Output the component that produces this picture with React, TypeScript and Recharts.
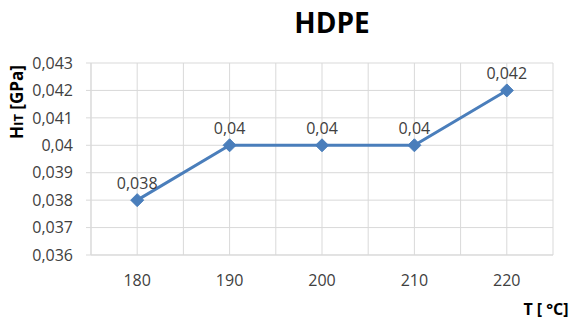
import { LineChart, Line, XAxis, YAxis, CartesianGrid, LabelList } from "recharts";

const temperatures = [180, 190, 200, 210, 220];
const hardness = [0.038, 0.04, 0.04, 0.04, 0.042];
const xTicks = [175, 180, 185, 190, 195, 200, 205, 210, 215, 220, 225];
const yTicks = [0.036, 0.037, 0.038, 0.039, 0.04, 0.041, 0.042, 0.043];

const data = temperatures.map((t, i) => ({ t, h: hardness[i] }));

const FONT = "'Open Sans', 'Noto Sans', sans-serif";
const BLUE = "#4A7EBB";

const fmt = (v: number) => String(Number(v.toFixed(3))).replace(".", ",");

const Diamond = (props: any) => {
  const { cx, cy } = props;
  if (cx == null || cy == null) return null;
  const r = 6.5;
  return (
    <path
      d={`M${cx},${cy - r} L${cx + r},${cy} L${cx},${cy + r} L${cx - r},${cy} Z`}
      fill={BLUE}
      stroke={BLUE}
      strokeWidth={1}
    />
  );
};

export default function App() {
  return (
    <div style={{ position: "absolute", left: 0, top: 0, width: 581, height: 320, background: "#fff", fontFamily: FONT }}>
      <LineChart width={581} height={320} data={data} margin={{ top: 63, right: 28, bottom: 0, left: 0 }}>
        <CartesianGrid stroke="#d9d9d9" strokeWidth={1} />
        <XAxis
          dataKey="t"
          type="number"
          domain={[175, 225]}
          ticks={xTicks}
          interval={0}
          tickFormatter={(v: number) => (v % 10 === 0 && v >= 180 && v <= 220 ? String(v) : "")}
          tickLine={false}
          axisLine={{ stroke: "#d9d9d9" }}
          tick={{ fill: "#404040", fontSize: 16, fontFamily: FONT }}
          tickMargin={14}
          height={65}
        />
        <YAxis
          type="number"
          domain={[0.036, 0.043]}
          ticks={yTicks}
          interval={0}
          tickFormatter={fmt}
          tickLine={{ stroke: "#d9d9d9" }}
          tickSize={5}
          tickMargin={13}
          axisLine={{ stroke: "#d9d9d9" }}
          tick={{ fill: "#404040", fontSize: 16, fontFamily: FONT }}
          width={91}
        />
        <Line
          dataKey="h"
          stroke={BLUE}
          strokeWidth={3}
          dot={<Diamond />}
          activeDot={false}
          isAnimationActive={false}
        >
          <LabelList dataKey="h" position="top" offset={11} formatter={(v: any) => fmt(Number(v))} fill="#404040" fontSize={16} fontFamily={FONT} />
        </Line>
        <text x={332} y={33} textAnchor="middle" fontSize={28} fontWeight="bold" fill="#000" fontFamily={FONT}>
          HDPE
        </text>
        <text x={23} y={102} textAnchor="middle" fontSize={17} fontWeight="bold" fill="#000" fontFamily={FONT} transform="rotate(-90 23 102)">
          H<tspan fontSize={13}>IT</tspan> [GPa]
        </text>
        <text x={546} y={315} textAnchor="middle" fontSize={16} fontWeight="bold" fill="#000" fontFamily={FONT}>
          T [ °C]
        </text>
      </LineChart>
    </div>
  );
}
